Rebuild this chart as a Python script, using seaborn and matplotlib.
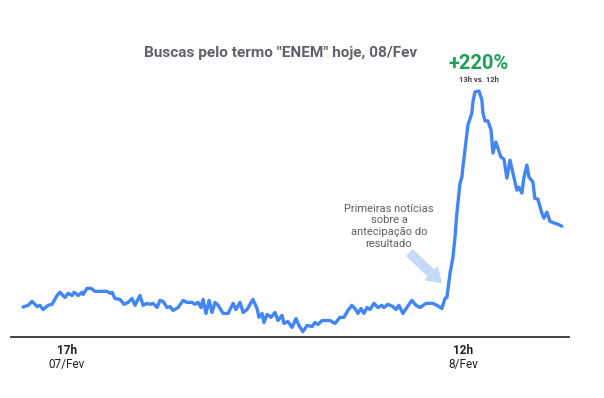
import numpy as np
import pandas as pd
import matplotlib.pyplot as plt
import matplotlib.transforms as mtransforms
import seaborn as sns

# horas desde 07/Fev 00h (36 = 12h de 08/Fev)
horas = [14.89, 15.13, 15.32, 15.56, 15.70, 15.85, 16.09, 16.28, 16.52, 16.66,
         16.90, 17.05, 17.24, 17.34, 17.53, 17.72, 17.77, 17.96, 18.15, 18.34,
         18.92, 19.06, 19.16, 19.30, 19.54, 19.74, 19.93, 20.12, 20.26, 20.50,
         20.65, 20.84, 20.98, 21.13, 21.32, 21.46, 21.61, 21.80, 21.94, 22.09,
         22.33, 22.57, 22.76, 23.00, 23.14, 23.29, 23.43, 23.53, 23.67, 23.82,
         23.96, 24.10, 24.25, 24.49, 24.73, 24.97, 25.11, 25.30, 25.45, 25.64,
         25.92, 26.12, 26.21, 26.36, 26.45, 26.60, 26.79, 26.98, 27.12, 27.32,
         27.41, 27.60, 27.80, 27.99, 28.13, 28.32, 28.52, 28.76, 28.90, 29.04,
         29.24, 29.62, 29.86, 30.10, 30.29, 30.48, 30.67, 30.82, 30.96, 31.11,
         31.25, 31.40, 31.54, 31.73, 31.92, 32.11, 32.21, 32.40, 32.64, 32.79,
         32.93, 33.12, 33.31, 33.55, 33.75, 33.94, 34.23, 34.56, 34.75, 34.99,
         35.14, 35.23, 35.38, 35.52, 35.62, 35.71, 35.86, 35.95, 36.00, 36.14,
         36.24, 36.43, 36.48, 36.58, 36.77, 36.91, 36.96, 37.06, 37.20, 37.35,
         37.44, 37.58, 37.68, 37.82, 37.97, 38.11, 38.26, 38.40, 38.59, 38.69,
         38.83, 38.93, 39.07, 39.17, 39.36, 39.45, 39.60, 39.79, 39.89, 40.03,
         40.18, 40.41, 40.56, 40.75]

buscas = [12.0, 12.7, 14.3, 12.2, 12.7, 11.0, 12.7, 13.1, 16.7, 18.0,
          15.9, 17.6, 16.7, 18.0, 16.7, 18.0, 17.1, 19.6, 19.6, 18.4,
          18.4, 17.6, 18.0, 15.5, 15.1, 13.1, 13.9, 15.5, 12.7, 16.7,
          12.7, 13.5, 13.1, 13.5, 11.8, 14.7, 14.3, 11.8, 12.2, 10.6,
          11.8, 14.7, 13.9, 13.9, 13.1, 13.9, 11.8, 15.1, 9.4, 14.7,
          9.8, 13.9, 12.7, 9.4, 9.4, 13.5, 11.0, 13.9, 9.8, 11.0,
          15.1, 11.4, 7.8, 9.4, 5.7, 9.0, 7.8, 9.8, 6.5, 8.6,
          5.3, 6.1, 3.7, 7.3, 4.5, 2.0, 4.5, 4.1, 5.7, 4.9,
          6.5, 6.5, 5.3, 7.8, 7.8, 10.6, 12.7, 11.4, 9.4, 11.4,
          9.4, 11.8, 11.0, 13.5, 11.8, 12.7, 11.8, 13.1, 12.2, 11.0,
          12.7, 9.4, 11.8, 14.7, 12.7, 11.8, 13.5, 13.5, 12.7, 11.4,
          15.5, 15.9, 25.7, 32.2, 40.4, 50.2, 62.4, 64.9, 69.0, 78.8,
          86.1, 91.0, 95.5, 99.6, 100.0, 96.3, 91.0, 87.8, 87.8, 84.1,
          74.7, 79.2, 76.7, 73.1, 72.2, 64.5, 71.8, 66.5, 59.6, 60.8,
          58.4, 64.9, 69.8, 64.9, 62.9, 56.3, 55.9, 50.2, 48.2, 50.6,
          46.9, 46.1, 45.7, 44.9]

tick_horas = [17, 36]
tick_hora_lbl = ["17h", "12h"]
tick_dia_lbl = ["07/Fev", "8/Fev"]

df = pd.DataFrame({"hora": horas, "buscas": buscas})

sns.set_style("white")
plt.rcParams['font.family'] = ['Roboto', 'DejaVu Sans']

fig = plt.figure(figsize=(6.04, 3.98), dpi=100)
ax = fig.add_axes([0.0182, 0.1545, 0.9238, 0.617])

sns.lineplot(data=df, x="hora", y="buscas", color="#4285f4", linewidth=2.4, ax=ax)
for l in ax.lines:
    l.set_clip_on(False)
    l.set_solid_joinstyle("round")
    l.set_solid_capstyle("round")

ax.set_xlim(14.31, 41.09)
ax.set_ylim(0, 100)
sns.despine(ax=ax, left=True, top=True, right=True)
ax.spines["bottom"].set_color("#333333")
ax.spines["bottom"].set_linewidth(1.3)
ax.set_xticks([])
ax.set_yticks([])
ax.set_xlabel("")
ax.set_ylabel("")

trans = mtransforms.blended_transform_factory(ax.transData, ax.transAxes)
for h, hl, dl in zip(tick_horas, tick_hora_lbl, tick_dia_lbl):
    ax.text(h, -0.057, hl, transform=trans, ha="center", va="center",
            fontsize=8.5, fontweight="bold", color="#202124")
    ax.text(h, -0.114, dl, transform=trans, ha="center", va="center",
            fontsize=8.5, color="#202124")

fig.text(0.465, 0.866, 'Buscas pelo termo "ENEM" hoje, 08/Fev', ha="center", va="center",
         fontsize=11.1, fontweight="bold", color="#5f6368")

# destaque do pico
ax.annotate("+220%", xy=(36.77, 100), xytext=(0, 20), textcoords="offset points",
            ha="center", va="center", fontsize=14.5, fontweight="bold", color="#1e9e57")
ax.annotate("13h vs. 12h", xy=(36.77, 100), xytext=(0, 8), textcoords="offset points",
            ha="center", va="center", fontsize=5.5, fontweight="bold", color="#3c4043")

# nota e seta
ax.text(32.45, 44.9, "Primeiras notícias\nsobre a\nantecipação do\nresultado",
        ha="center", va="center", fontsize=8, color="#5f5f5f", linespacing=1.22)
ax.annotate("", xy=(34.95, 22.0), xytext=(33.45, 34.0),
            arrowprops=dict(arrowstyle="simple,head_width=1.25,head_length=0.95,tail_width=0.6",
                            color="#c5d9f8", mutation_scale=10, shrinkA=0, shrinkB=0))

fig.savefig("out.png", dpi=100, facecolor="white")
